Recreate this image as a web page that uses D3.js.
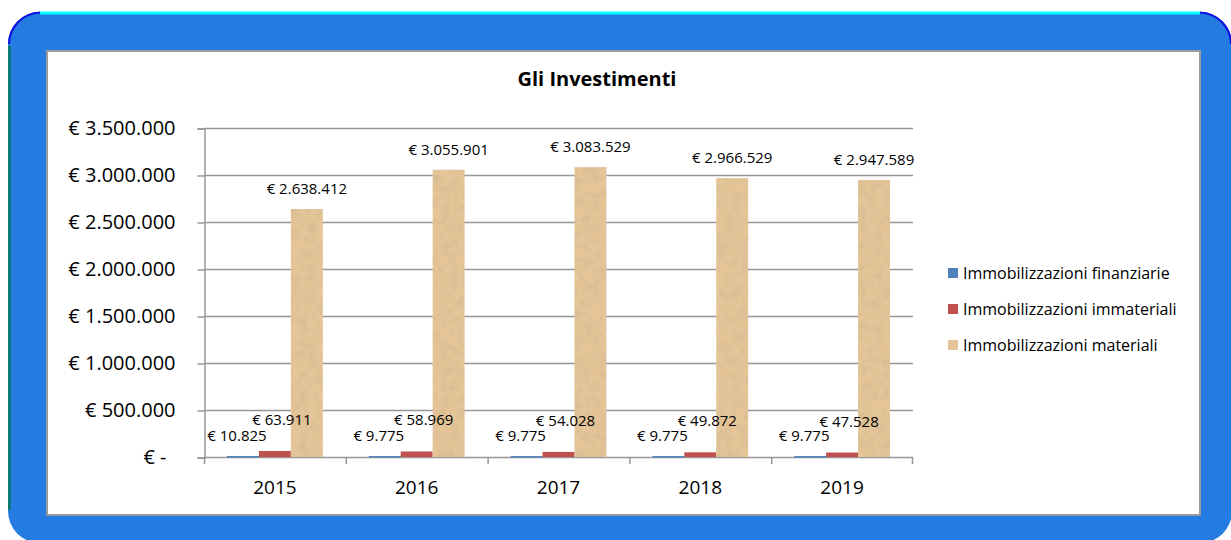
<!DOCTYPE html>
<html>
<head>
<meta charset="utf-8">
<script src="https://cdn.jsdelivr.net/npm/d3@7"></script>
<style>
  body { margin: 0; background: #fff; }
  svg { display: block; font-family: "Open Sans", "Noto Sans", sans-serif; }
</style>
</head>
<body>
<svg id="chart"></svg>
<script>
// dati
var anni = ["2015", "2016", "2017", "2018", "2019"];
var serie = ["Immobilizzazioni finanziarie", "Immobilizzazioni immateriali", "Immobilizzazioni materiali"];
var finanziarie = [10825, 9775, 9775, 9775, 9775];
var immateriali = [63911, 58969, 54028, 49872, 47528];
var materiali = [2638412, 3055901, 3083529, 2966529, 2947589];
var yTicks = [0, 500000, 1000000, 1500000, 2000000, 2500000, 3000000, 3500000];
var colori = ["#4F81BD", "#C0504D", "#E5C598"];

var W = 1231, H = 540;
var svg = d3.select("#chart").attr("width", W).attr("height", H);

// texture per le barre marroni
var defs = svg.append("defs");
var f = defs.append("filter").attr("id", "grana").attr("x", 0).attr("y", 0).attr("width", 1).attr("height", 1);
f.append("feTurbulence").attr("type", "fractalNoise").attr("baseFrequency", 0.12).attr("numOctaves", 3).attr("seed", 4).attr("result", "n");
f.append("feColorMatrix").attr("in", "n").attr("type", "matrix")
  .attr("values", "0 0 0 0 0.55  0 0 0 0 0.42  0 0 0 0 0.25  0.8 0 0 0 -0.3").attr("result", "m");
f.append("feComposite").attr("in", "m").attr("in2", "SourceGraphic").attr("operator", "atop");

// cornice blu
svg.append("rect")
  .attr("x", 8).attr("y", 12).attr("width", 1224).attr("height", 531)
  .attr("rx", 32).attr("fill", "#247BE2");
svg.append("path")
  .attr("d", "M40,13 H1200")
  .attr("stroke", "#00FFFF").attr("stroke-width", 3);
svg.append("path")
  .attr("d", "M9.5,46 V510")
  .attr("stroke", "#0A7A78").attr("stroke-width", 3);
svg.append("path")
  .attr("d", "M9,44 A32,32 0 0 1 40,12.5 M1200,12.5 A32,32 0 0 1 1231,44")
  .attr("fill", "none").attr("stroke", "#1010E0").attr("stroke-width", 2);

// pannello bianco
svg.append("rect")
  .attr("x", 47).attr("y", 51).attr("width", 1153).attr("height", 464)
  .attr("fill", "#fff").attr("stroke", "#9a9a9a").attr("stroke-width", 2);

// titolo
svg.append("text")
  .attr("x", 597).attr("y", 86)
  .attr("text-anchor", "middle")
  .attr("font-weight", "bold").attr("font-size", 20)
  .text("Gli Investimenti");

var pLeft = 204, pRight = 913, pTop = 128, pBottom = 457;

var x0 = d3.scaleBand().domain(anni).range([pLeft, pRight]).padding(0);
var x1 = d3.scaleBand().domain(serie).range([0, x0.bandwidth()]).paddingInner(0).paddingOuter(0.72);
var y = d3.scaleLinear().domain([0, 3500000]).range([pBottom, pTop]);

var loc = d3.formatLocale({decimal: ",", thousands: ".", grouping: [3], currency: ["€ ", ""]});
var fmt = loc.format("$,.0f");
var fmtTick = function(d) { return d === 0 ? "€ -" : fmt(d); };

// griglia
svg.append("g")
  .selectAll("line")
  .data(yTicks.slice(1))
  .join("line")
  .attr("x1", pLeft).attr("x2", pRight)
  .attr("y1", function(d) { return y(d) + 0.5; })
  .attr("y2", function(d) { return y(d) + 0.5; })
  .attr("stroke", "#979797").attr("stroke-width", 1.5);

// asse y
var yAxis = svg.append("g")
  .attr("transform", "translate(" + (pLeft + 0.5) + ",0.5)")
  .call(d3.axisLeft(y).tickValues(yTicks).tickFormat(fmtTick).tickSize(7).tickPadding(22));
yAxis.select(".domain").attr("stroke", "#979797").attr("stroke-width", 1.5);
yAxis.selectAll(".tick line").attr("stroke", "#979797").attr("stroke-width", 1.5);
yAxis.selectAll(".tick text")
  .attr("font-size", 20).attr("fill", "#000")
  .attr("font-family", "'Open Sans', sans-serif")
  .attr("dx", function(d) { return d === 0 ? -9 : 0; });

// asse x
var xAxis = svg.append("g")
  .attr("transform", "translate(0," + (pBottom + 0.5) + ")")
  .call(d3.axisBottom(x0).tickSize(0).tickPadding(23));
xAxis.select(".domain").remove();
xAxis.selectAll(".tick text").attr("font-size", 19).attr("fill", "#000")
  .attr("font-family", "'Open Sans', sans-serif");
svg.append("line")
  .attr("x1", pLeft).attr("x2", pRight)
  .attr("y1", pBottom + 0.5).attr("y2", pBottom + 0.5)
  .attr("stroke", "#979797").attr("stroke-width", 1.5);
svg.append("g")
  .selectAll("line")
  .data(anni.concat(["fine"]))
  .join("line")
  .attr("x1", function(d, i) { return i < anni.length ? x0(d) + 0.5 : pRight - 0.5; })
  .attr("x2", function(d, i) { return i < anni.length ? x0(d) + 0.5 : pRight - 0.5; })
  .attr("y1", pBottom).attr("y2", pBottom + 7)
  .attr("stroke", "#979797").attr("stroke-width", 1.5);

// barre
var valori = [finanziarie, immateriali, materiali];
var righe = [];
serie.forEach(function(s, si) {
  anni.forEach(function(a, ai) {
    righe.push({serie: s, si: si, anno: a, v: valori[si][ai]});
  });
});

svg.append("g")
  .selectAll("rect")
  .data(righe)
  .join("rect")
  .attr("x", function(d) { return x0(d.anno) + x1(d.serie); })
  .attr("width", x1.bandwidth())
  .attr("y", function(d) { return y(d.v); })
  .attr("height", function(d) { return Math.max(1.5, pBottom - y(d.v)); })
  .attr("fill", function(d) { return colori[d.si]; })
  .attr("filter", function(d) { return d.si === 2 ? "url(#grana)" : null; });

// etichette dati (piccolo scarto orizzontale come in Excel)
var alzo = [15, 26, 15];
var scarto = [-6, 7, 0];
svg.append("g")
  .selectAll("text")
  .data(righe)
  .join("text")
  .attr("x", function(d) { return x0(d.anno) + x1(d.serie) + x1.bandwidth() / 2 + scarto[d.si]; })
  .attr("y", function(d) { return y(d.v) - alzo[d.si]; })
  .attr("text-anchor", "middle")
  .attr("font-size", 15)
  .attr("fill", "#000")
  .text(function(d) { return fmt(d.v); });

// legenda
var leg = svg.append("g").attr("transform", "translate(948,268)");
var voce = leg.selectAll("g")
  .data(serie)
  .join("g")
  .attr("transform", function(d, i) { return "translate(0," + (i * 36) + ")"; });
voce.append("rect")
  .attr("width", 10).attr("height", 10)
  .attr("fill", function(d, i) { return colori[i]; });
voce.append("text")
  .attr("x", 15).attr("y", 11)
  .attr("font-size", 16)
  .text(function(d) { return d; });
</script>
</body>
</html>
